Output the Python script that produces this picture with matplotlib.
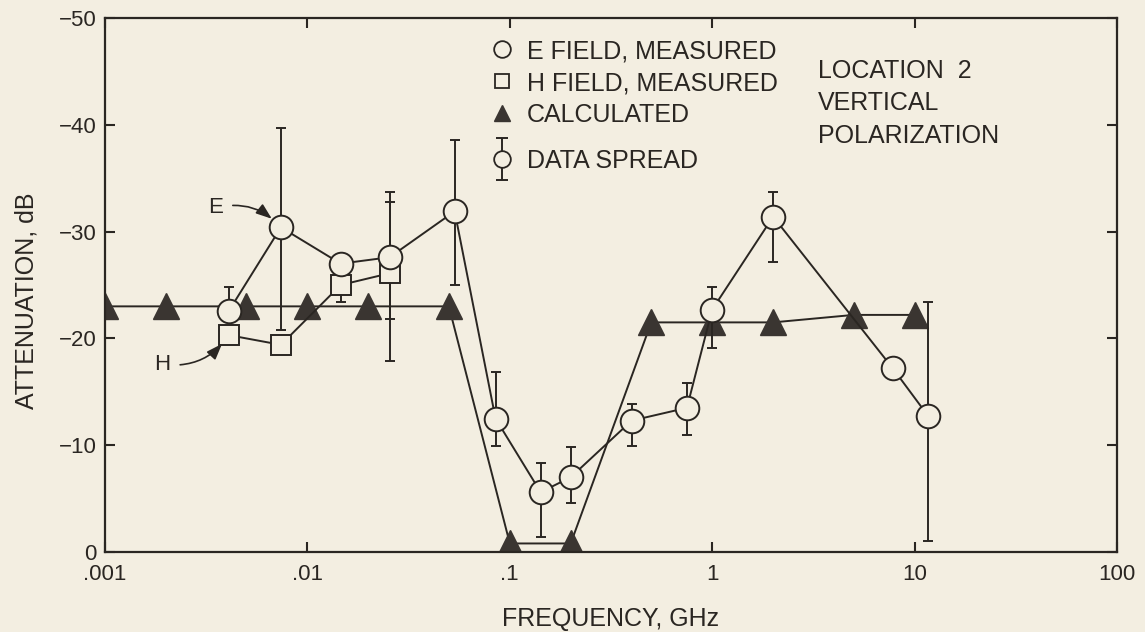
import numpy as np
import matplotlib
matplotlib.use('Agg')
import matplotlib.pyplot as plt
from matplotlib.lines import Line2D
from matplotlib.collections import LineCollection
from matplotlib.container import ErrorbarContainer
from matplotlib.legend_handler import HandlerErrorbar
from matplotlib.ticker import FixedLocator, FixedFormatter, NullLocator

# ---------------- data ----------------
# E field, measured (GHz, dB)
e_freq = [0.0041, 0.0074, 0.0146, 0.0255, 0.0534, 0.085, 0.142, 0.2, 0.4, 0.75, 1.0, 2.0, 7.8, 11.7]
e_db = [-22.6, -30.4, -27.0, -27.6, -31.9, -12.5, -5.6, -7.0, -12.3, -13.5, -22.7, -31.4, -17.2, -12.7]
# data spread (top = more negative end, bottom = less negative end), nan = not shown
e_spread_top = [-24.8, -39.7, np.nan, -33.7, -38.6, -16.9, -8.3, -9.8, -13.9, -15.8, -24.8, -33.7, np.nan, -23.4]
e_spread_bot = [np.nan, -20.8, np.nan, -17.9, -25.0, -9.9, -1.4, -4.6, -9.9, -11.0, -19.1, -27.2, np.nan, -1.0]

# H field, measured
h_freq = [0.0041, 0.0074, 0.0146, 0.0255]
h_db = [-20.3, -19.4, -25.0, -26.1]
h_spread_top = [np.nan, np.nan, np.nan, -32.8]
h_spread_bot = [np.nan, np.nan, -23.4, -21.8]

# Calculated
calc_freq = [0.001, 0.002, 0.005, 0.01, 0.02, 0.05, 0.1, 0.2, 0.5, 1.0, 2.0, 5.0, 10.0]
calc_db = [-23.0, -23.0, -23.0, -23.0, -23.0, -23.0, -0.8, -0.8, -21.5, -21.5, -21.5, -22.2, -22.2]

x_ticks = [0.001, 0.01, 0.1, 1, 10, 100]
x_ticklabels = ['.001', '.01', '.1', '1', '10', '100']
y_ticks = [-50, -40, -30, -20, -10, 0]
y_ticklabels = ['\u221250', '\u221240', '\u221230', '\u221220', '\u221210', '0']

legend_labels = ['E FIELD, MEASURED', 'H FIELD, MEASURED', 'CALCULATED']
spread_label = 'DATA SPREAD'
info_lines = ['LOCATION  2', 'VERTICAL', 'POLARIZATION']

# ---------------- style ----------------
BG = '#f3eee1'
INK = '#2a2622'
TRI = '#3a3531'
LW = 1.4

plt.rcParams['font.family'] = ['Liberation Sans', 'DejaVu Sans']

W, H = 1145, 632
fig = plt.figure(figsize=(W / 100, H / 100), dpi=100, facecolor=BG)
ax = fig.add_axes([105 / W, 1 - 552 / H, 1012 / W, 534 / H])
ax.set_facecolor(BG)
ax.set_xscale('log')
ax.set_xlim(0.001, 100)
ax.set_ylim(0, -50)


def spread_err(vals, top, bot):
    idx = [i for i in range(len(vals)) if not (np.isnan(top[i]) and np.isnan(bot[i]))]
    v = np.array(vals)[idx]
    t = np.array(top)[idx]
    b = np.array(bot)[idx]
    t = np.where(np.isnan(t), v, t)
    b = np.where(np.isnan(b), v, b)
    return idx, v, np.vstack([v - t, b - v])


# calculated
ax.plot(calc_freq, calc_db, color=INK, lw=LW, marker='^', ms=19,
        mfc=TRI, mec=TRI, zorder=2)

# error bars
idx, v, err = spread_err(e_db, e_spread_top, e_spread_bot)
ax.errorbar(np.array(e_freq)[idx], v, yerr=err, fmt='none', ecolor=INK,
            elinewidth=LW, capsize=3.6, capthick=LW, zorder=3)
idx, v, err = spread_err(h_db, h_spread_top, h_spread_bot)
ax.errorbar(np.array(h_freq)[idx], v, yerr=err, fmt='none', ecolor=INK,
            elinewidth=LW, capsize=3.6, capthick=LW, zorder=3)

# H field
ax.plot(h_freq, h_db, color=INK, lw=LW, marker='s', ms=14, mfc=BG,
        mec=INK, mew=LW, zorder=4)
# E field
ax.plot(e_freq, e_db, color=INK, lw=LW, marker='o', ms=17, mfc=BG,
        mec=INK, mew=LW, zorder=5)

# annotations
ax.annotate('E', xy=(e_freq[1], e_db[1]), xytext=(-47, 14), textcoords='offset points',
            ha='center', va='center', fontsize=16, color=INK,
            arrowprops=dict(arrowstyle='-|>,head_length=0.6,head_width=0.22', color=INK,
                            lw=1.2, shrinkA=5, shrinkB=9,
                            connectionstyle='arc3,rad=-0.3'))
ax.annotate('H', xy=(h_freq[0], h_db[0]), xytext=(-48, -21), textcoords='offset points',
            ha='center', va='center', fontsize=16, color=INK,
            arrowprops=dict(arrowstyle='-|>,head_length=0.6,head_width=0.22', color=INK,
                            lw=1.2, shrinkA=5, shrinkB=8,
                            connectionstyle='arc3,rad=0.3'))

# axes styling
for s in ax.spines.values():
    s.set_linewidth(1.6)
    s.set_color(INK)
ax.xaxis.set_major_locator(FixedLocator(x_ticks))
ax.xaxis.set_major_formatter(FixedFormatter(x_ticklabels))
ax.xaxis.set_minor_locator(NullLocator())
ax.yaxis.set_major_locator(FixedLocator(y_ticks))
ax.yaxis.set_major_formatter(FixedFormatter(y_ticklabels))
ax.tick_params(direction='in', length=7, width=1.5, color=INK, labelcolor=INK,
               top=True, right=True, labelsize=16)
ax.tick_params(axis='x', pad=9)
ax.tick_params(axis='y', pad=6)

ax.set_xlabel('FREQUENCY, GHz', fontsize=18, color=INK)
ax.set_ylabel('ATTENUATION, dB', fontsize=18, color=INK)
ax.xaxis.set_label_coords(0.5, -0.103)
ax.yaxis.set_label_coords(-0.066, 0.47)

# legend
h1 = [Line2D([], [], ls='none', marker='o', ms=12, mfc=BG, mec=INK, mew=1.3),
      Line2D([], [], ls='none', marker='s', ms=10, mfc=BG, mec=INK, mew=1.3),
      Line2D([], [], ls='none', marker='^', ms=11, mfc=TRI, mec=TRI)]
leg1 = ax.legend(h1, legend_labels, loc='upper left',
                 bbox_to_anchor=(492 / W, 1 - 39 / H), bbox_transform=fig.transFigure,
                 frameon=False, fontsize=18, handlelength=0.8, handletextpad=0.6,
                 labelspacing=0.32, borderpad=0, borderaxespad=0, labelcolor=INK)
ax.add_artist(leg1)

leg_pt = Line2D([], [], ls='none', marker='o', ms=12, mfc=BG, mec=INK, mew=1.3)
leg_cap = Line2D([], [], ls='none', marker='_', ms=9, mew=LW, color=INK)
leg_bar = LineCollection([], colors=INK, linewidths=LW)
eb_handle = ErrorbarContainer((leg_pt, (leg_cap, leg_cap), (leg_bar,)),
                              has_xerr=False, has_yerr=True)
ax.legend([eb_handle], [spread_label], loc='center left',
          bbox_to_anchor=(492 / W, 1 - 161 / H), bbox_transform=fig.transFigure,
          frameon=False, fontsize=18, handlelength=0.8, handletextpad=0.6,
          borderpad=0, borderaxespad=0, labelcolor=INK,
          handler_map={ErrorbarContainer: HandlerErrorbar(yerr_size=0.84)})

# info text
for i, line in enumerate(info_lines):
    fig.text(818 / W, 1 - (71 + 32.5 * i) / H, line, fontsize=18, color=INK,
             ha='left', va='center')

fig.savefig('out.png', dpi=100, facecolor=BG)
